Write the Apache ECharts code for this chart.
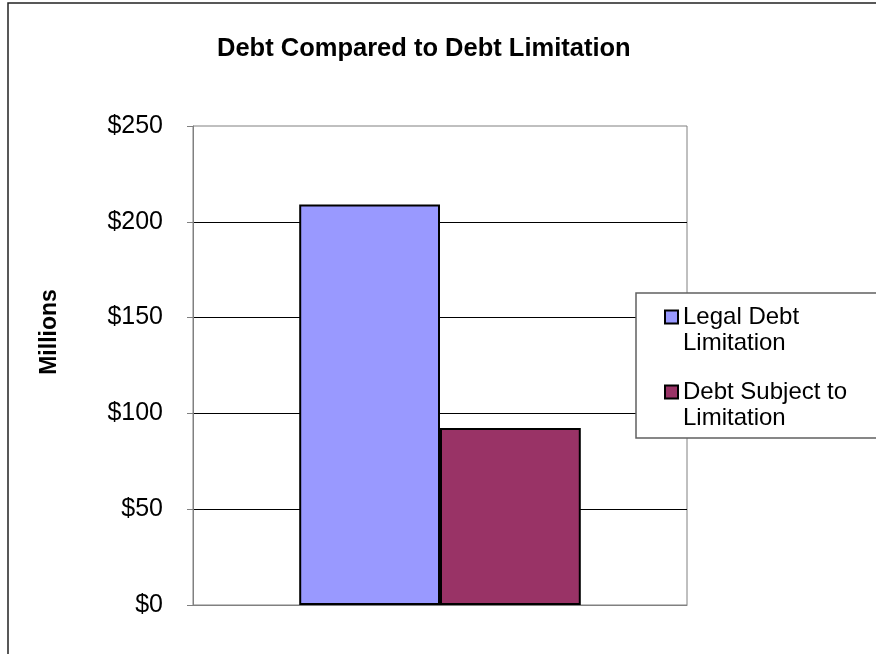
<!DOCTYPE html>
<html>
<head>
<meta charset="utf-8">
<script src="https://cdn.jsdelivr.net/npm/echarts@6/dist/echarts.min.js"></script>
<style>
html,body{margin:0;padding:0;background:#fff;}
#c{width:876px;height:654px;}
</style>
</head>
<body>
<div id="c"></div>
<script>
var categories = [''];
var seriesNames = ['Legal Debt Limitation', 'Debt Subject to Limitation'];
var legendLabels = ['Legal Debt\nLimitation', 'Debt Subject to\nLimitation'];
var legalDebtLimitation = [209];
var debtSubjectToLimitation = [92.4];
var yTicks = [0, 50, 100, 150, 200, 250];

var chart = echarts.init(document.getElementById('c'));
var FONT = 'Arial, "Liberation Sans", sans-serif';
var iconPath = 'path://M0,0H13V13H0Z M0,39';

chart.setOption({
  animation: false,
  backgroundColor: '#fff',
  title: {
    text: 'Debt Compared to Debt Limitation',
    left: 217, top: 36, padding: 0,
    textStyle: {fontFamily: FONT, fontSize: 25.5, fontWeight: 'bold', color: '#000'}
  },
  grid: {
    left: 193, right: 189, top: 126, bottom: 49,
    show: true, borderColor: '#808080', borderWidth: 1, backgroundColor: 'transparent'
  },
  graphic: [
    {type: 'rect', z: -10, shape: {x: 8, y: 3, width: 900, height: 700},
     style: {fill: 'none', stroke: '#222', lineWidth: 1.5}},
    {type: 'text', x: 50, y: 332, rotation: Math.PI / 2,
     style: {text: 'Millions', font: 'bold 23px ' + FONT, fill: '#000', align: 'center', verticalAlign: 'middle'}},
    {type: 'rect', z: 50, shape: {x: 636, y: 293, width: 245, height: 145},
     style: {fill: '#fff', stroke: '#606060', lineWidth: 1.5}}
  ],
  legend: {
    orient: 'vertical', left: 664, top: 304, padding: 0, z: 60,
    itemWidth: 13, itemHeight: 39, itemGap: 23,
    icon: iconPath,
    data: seriesNames,
    formatter: function (name) { return legendLabels[seriesNames.indexOf(name)]; },
    textStyle: {fontFamily: FONT, fontSize: 24, lineHeight: 26, color: '#000'}
  },
  xAxis: {
    type: 'category', data: categories,
    axisLine: {show: true, lineStyle: {color: '#808080', width: 1}},
    axisTick: {show: false}, axisLabel: {show: false}, splitLine: {show: false}
  },
  yAxis: {
    type: 'value', min: 0, max: 250, interval: 50,
    axisLine: {show: true, lineStyle: {color: '#808080', width: 1}},
    axisTick: {show: true, length: 6, lineStyle: {color: '#808080'}},
    axisLabel: {
      margin: 30, fontFamily: FONT, fontSize: 25, color: '#000',
      formatter: function (v) { return yTicks.indexOf(v) >= 0 ? '$' + v : ''; }
    },
    splitLine: {show: true, showMaxLine: false, showMinLine: false, lineStyle: {color: '#000', width: 1}}
  },
  series: [
    {name: seriesNames[0], type: 'bar', data: legalDebtLimitation,
     barGap: '0%', barCategoryGap: '43%',
     itemStyle: {color: '#9999FF', borderColor: '#000', borderWidth: 2}},
    {name: seriesNames[1], type: 'bar', data: debtSubjectToLimitation,
     barGap: '0%', barCategoryGap: '43%',
     itemStyle: {color: '#993366', borderColor: '#000', borderWidth: 2}}
  ]
});
</script>
</body>
</html>
